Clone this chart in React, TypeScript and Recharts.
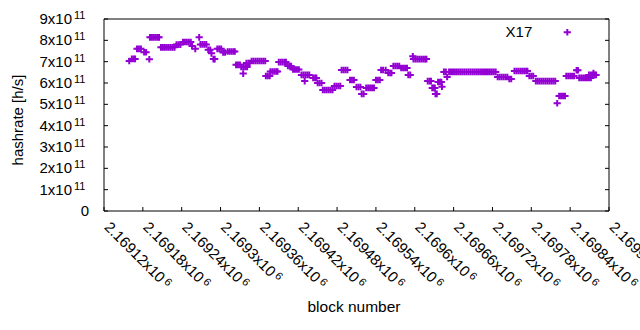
import { Legend, Scatter, ScatterChart, XAxis, YAxis } from "recharts";

// block numbers (x) and hashrate in h/s (y), one entry per plotted point
const blocks = [
  2169159,
  2169163, 2169166, 2169168,
  2169171, 2169174, 2169177,
  2169182, 2169185,
  2169190,
  2169191, 2169194, 2169197, 2169200, 2169203, 2169205,
  2169208, 2169211, 2169214, 2169217, 2169220, 2169223, 2169226, 2169229,
  2169232, 2169235, 2169238,
  2169242, 2169245, 2169248, 2169251, 2169254,
  2169256,
  2169261,
  2169267,
  2169269, 2169272, 2169275, 2169278,
  2169281, 2169284,
  2169286,
  2169289, 2169291,
  2169295, 2169298, 2169301,
  2169304, 2169307,
  2169311, 2169314, 2169317, 2169320, 2169322,
  2169324, 2169327, 2169330,
  2169332, 2169335, 2169338, 2169341,
  2169335,
  2169340, 2169343, 2169345,
  2169348, 2169351, 2169354, 2169357, 2169360, 2169363, 2169366, 2169369,
  2169370, 2169373, 2169376,
  2169377, 2169380, 2169383, 2169386, 2169388,
  2169390, 2169393, 2169396, 2169399, 2169401,
  2169404, 2169407, 2169409,
  2169412, 2169415, 2169418, 2169421,
  2169425, 2169428, 2169431, 2169434, 2169437,
  2169430,
  2169443, 2169446, 2169448,
  2169450, 2169453, 2169456,
  2169458, 2169461, 2169464, 2169467, 2169470, 2169473,
  2169476, 2169479, 2169482, 2169485,
  2169487, 2169490, 2169493, 2169496,
  2169500, 2169503, 2169506,
  2169510, 2169513, 2169516,
  2169518, 2169521,
  2169525, 2169528, 2169531, 2169534, 2169537,
  2169540, 2169543, 2169546,
  2169548, 2169551, 2169555,
  2169559, 2169562, 2169564,
  2169567, 2169570, 2169573, 2169576,
  2169579, 2169582, 2169585, 2169588,
  2169590, 2169593,
  2169597,
  2169598, 2169601, 2169604, 2169607, 2169610, 2169613, 2169616, 2169618,
  2169620, 2169623, 2169625,
  2169627, 2169629, 2169631,
  2169632, 2169634,
  2169636, 2169639, 2169641,
  2169642,
  2169645, 2169648,
  2169650,
  2169653, 2169656, 2169659, 2169662, 2169665, 2169668, 2169671, 2169674, 2169677,
  2169680, 2169683, 2169686, 2169689, 2169692, 2169695, 2169698, 2169701, 2169704,
  2169707, 2169710, 2169713, 2169716, 2169719, 2169722, 2169725,
  2169728, 2169731, 2169734, 2169737, 2169740, 2169743,
  2169746, 2169749,
  2169754, 2169757, 2169760, 2169763, 2169766, 2169769, 2169772, 2169774,
  2169777, 2169780, 2169783,
  2169787, 2169790, 2169793, 2169796, 2169799, 2169802, 2169805, 2169808, 2169811,
  2169814, 2169817,
  2169820,
  2169823, 2169826, 2169829, 2169832,
  2169834, 2169837, 2169840, 2169843, 2169846,
  2169850, 2169852,
  2169854, 2169857, 2169860, 2169863, 2169866, 2169869, 2169872,
  2169869, 2169872, 2169875, 2169878, 2169880,
  2169876,
];

const hashrate = [
  7.03e11,
  7.13e11, 7.13e11, 7.13e11,
  7.6e11, 7.6e11, 7.6e11,
  7.44e11, 7.44e11,
  7.11e11,
  8.14e11, 8.14e11, 8.14e11, 8.14e11, 8.14e11, 8.14e11,
  7.67e11, 7.67e11, 7.67e11, 7.67e11, 7.67e11, 7.67e11, 7.67e11, 7.67e11,
  7.8e11, 7.8e11, 7.8e11,
  7.92e11, 7.92e11, 7.92e11, 7.92e11, 7.92e11,
  7.73e11,
  7.6e11,
  8.14e11,
  7.81e11, 7.81e11, 7.81e11, 7.81e11,
  7.56e11, 7.56e11,
  7.39e11,
  7.12e11, 7.12e11,
  7.6e11, 7.6e11, 7.6e11,
  7.43e11, 7.43e11,
  7.48e11, 7.48e11, 7.48e11, 7.48e11, 7.48e11,
  6.85e11, 6.85e11, 6.85e11,
  6.75e11, 6.75e11, 6.75e11, 6.75e11,
  6.44e11,
  6.94e11, 6.94e11, 6.94e11,
  7.03e11, 7.03e11, 7.03e11, 7.03e11, 7.03e11, 7.03e11, 7.03e11, 7.03e11,
  6.33e11, 6.33e11, 6.33e11,
  6.54e11, 6.54e11, 6.54e11, 6.54e11, 6.54e11,
  6.98e11, 6.98e11, 6.98e11, 6.98e11, 6.98e11,
  6.8e11, 6.8e11, 6.8e11,
  6.63e11, 6.63e11, 6.63e11, 6.63e11,
  6.38e11, 6.38e11, 6.38e11, 6.38e11, 6.38e11,
  6.09e11,
  6.24e11, 6.24e11, 6.24e11,
  6.0e11, 6.0e11, 6.0e11,
  5.67e11, 5.67e11, 5.67e11, 5.67e11, 5.67e11, 5.67e11,
  5.86e11, 5.86e11, 5.86e11, 5.86e11,
  6.61e11, 6.61e11, 6.61e11, 6.61e11,
  6.14e11, 6.14e11, 6.14e11,
  5.81e11, 5.81e11, 5.81e11,
  5.49e11, 5.49e11,
  5.77e11, 5.77e11, 5.77e11, 5.77e11, 5.77e11,
  6.14e11, 6.14e11, 6.14e11,
  6.61e11, 6.61e11, 6.61e11,
  6.47e11, 6.47e11, 6.47e11,
  6.8e11, 6.8e11, 6.8e11, 6.8e11,
  6.7e11, 6.7e11, 6.7e11, 6.7e11,
  6.38e11, 6.38e11,
  7.25e11,
  7.12e11, 7.12e11, 7.12e11, 7.12e11, 7.12e11, 7.12e11, 7.12e11, 7.12e11,
  6.09e11, 6.09e11, 6.09e11,
  5.77e11, 5.77e11, 5.77e11,
  5.49e11, 5.49e11,
  6.05e11, 6.05e11, 6.05e11,
  5.83e11,
  6.52e11, 6.52e11,
  6.28e11,
  6.52e11, 6.52e11, 6.52e11, 6.52e11, 6.52e11, 6.52e11, 6.52e11, 6.52e11, 6.52e11,
  6.52e11, 6.52e11, 6.52e11, 6.52e11, 6.52e11, 6.52e11, 6.52e11, 6.52e11, 6.52e11,
  6.52e11, 6.52e11, 6.52e11, 6.52e11, 6.52e11, 6.52e11, 6.52e11,
  6.28e11, 6.28e11, 6.28e11, 6.28e11, 6.28e11, 6.28e11,
  6.19e11, 6.19e11,
  6.56e11, 6.56e11, 6.56e11, 6.56e11, 6.56e11, 6.56e11, 6.56e11, 6.56e11,
  6.33e11, 6.33e11, 6.33e11,
  6.09e11, 6.09e11, 6.09e11, 6.09e11, 6.09e11, 6.09e11, 6.09e11, 6.09e11, 6.09e11,
  6.09e11, 6.09e11,
  5.05e11,
  5.39e11, 5.39e11, 5.39e11, 5.39e11,
  6.33e11, 6.33e11, 6.33e11, 6.33e11, 6.33e11,
  6.6e11, 6.6e11,
  6.24e11, 6.24e11, 6.24e11, 6.24e11, 6.24e11, 6.24e11, 6.24e11,
  6.38e11, 6.38e11, 6.38e11, 6.38e11, 6.38e11,
  6.47e11,
];

const xTicks = [
  2169120, 2169180, 2169240, 2169300, 2169360, 2169420, 2169480,
  2169540, 2169600, 2169660, 2169720, 2169780, 2169840, 2169900,
];
const xTickLabels = [
  "2.16912", "2.16918", "2.16924", "2.1693", "2.16936", "2.16942", "2.16948",
  "2.16954", "2.1696", "2.16966", "2.16972", "2.16978", "2.16984", "2.1699",
];
const yTicks = [0, 1e11, 2e11, 3e11, 4e11, 5e11, 6e11, 7e11, 8e11, 9e11];
const yTickLabels = ["0", "1", "2", "3", "4", "5", "6", "7", "8", "9"];

const points = blocks.map((b, i) => ({ block: b, hashrate: hashrate[i] }));

const PURPLE = "#9400D3";
const FONT = "'Liberation Sans', Arial, sans-serif";
const X_DOMAIN = [2169120, 2169900];
const Y_DOMAIN = [0, 9e11];

function Cross(props: any) {
  const { cx, cy } = props;
  if (cx == null || cy == null) return null;
  return (
    <path
      d={`M${cx - 3.6},${cy}H${cx + 3.6}M${cx},${cy - 3.3}V${cy + 3.3}`}
      stroke={PURPLE}
      strokeWidth={2}
      fill="none"
    />
  );
}

function BottomTick({ x, y, payload }: any) {
  const label = xTickLabels[xTicks.indexOf(payload.value)];
  return (
    <g>
      <line x1={x} y1={y} x2={x} y2={y - 4} stroke="#000" />
      <g transform={`translate(${x - 0.5},${y + 17}) rotate(45)`}>
        <text x={0} y={0} fontSize={15} fill="#000">
          {label}x10
          <tspan dx={2.5} dy={-4} fontSize={11}>6</tspan>
        </text>
      </g>
    </g>
  );
}

function TopTick({ x, y }: any) {
  return <line x1={x} y1={y} x2={x} y2={y + 4} stroke="#000" />;
}

function LeftTick({ x, y, payload }: any) {
  const label = yTickLabels[yTicks.indexOf(payload.value)];
  return (
    <g>
      <line x1={x} y1={y} x2={x + 4} y2={y} stroke="#000" />
      {payload.value === 0 ? (
        <text x={x - 15} y={y + 5} fontSize={15} textAnchor="end" fill="#000">
          0
        </text>
      ) : (
        <text x={x - 32} y={y + 5} fontSize={15} textAnchor="end" fill="#000">
          {label}x10
          <tspan x={x - 30} dy={-5} fontSize={11} textAnchor="start">11</tspan>
        </text>
      )}
    </g>
  );
}

function RightTick({ x, y }: any) {
  return <line x1={x} y1={y} x2={x - 4} y2={y} stroke="#000" />;
}

function LegendKey() {
  return (
    <svg width={120} height={30} style={{ display: "block" }}>
      <text x={52.3} y={17.3} fontSize={15} textAnchor="end" fill="#000" fontFamily={FONT}>
        X17
      </text>
      <path d="M83.7,12.3H90.9M87.3,9V15.6" stroke={PURPLE} strokeWidth={2} fill="none" />
    </svg>
  );
}

export default function App() {
  return (
    <div style={{ position: "absolute", left: 0, top: 0, fontFamily: FONT, background: "#fff" }}>
      <ScatterChart width={640} height={330} margin={{ top: 18, right: 30, bottom: 0, left: 0 }}>
        <XAxis
          xAxisId="b"
          dataKey="block"
          type="number"
          domain={X_DOMAIN}
          ticks={xTicks}
          interval={0}
          height={119}
          tickSize={0}
          tickMargin={0}
          tickLine={false}
          axisLine={{ stroke: "#000" }}
          tick={<BottomTick />}
          allowDataOverflow
          label={({ viewBox }: any) => (
            <text
              x={viewBox.x + viewBox.width / 2 - 2.5}
              y={viewBox.y + 100.5}
              fontSize={15.5}
              textAnchor="middle"
              fill="#000"
            >
              block number
            </text>
          )}
        />
        <XAxis
          xAxisId="t"
          orientation="top"
          type="number"
          domain={X_DOMAIN}
          ticks={xTicks}
          interval={0}
          height={1}
          tickSize={0}
          tickMargin={0}
          tickLine={false}
          axisLine={{ stroke: "#000" }}
          tick={<TopTick />}
          allowDataOverflow
        />
        <YAxis
          yAxisId="l"
          dataKey="hashrate"
          type="number"
          domain={Y_DOMAIN}
          ticks={yTicks}
          interval={0}
          width={104}
          tickSize={0}
          tickMargin={0}
          tickLine={false}
          axisLine={{ stroke: "#000" }}
          tick={<LeftTick />}
          allowDataOverflow
          label={({ viewBox }: any) => (
            <text
              transform={`translate(22.5,${viewBox.y + viewBox.height / 2 + 5}) rotate(-90)`}
              fontSize={15}
              textAnchor="middle"
              fill="#000"
            >
              hashrate [h/s]
            </text>
          )}
        />
        <YAxis
          yAxisId="r"
          orientation="right"
          type="number"
          domain={Y_DOMAIN}
          ticks={yTicks}
          interval={0}
          width={1}
          tickSize={0}
          tickMargin={0}
          tickLine={false}
          axisLine={{ stroke: "#000" }}
          tick={<RightTick />}
          allowDataOverflow
        />
        <Legend
          layout="horizontal"
          verticalAlign="middle"
          align="center"
          wrapperStyle={{ top: 20, left: 480, width: 120, height: 30 }}
          content={<LegendKey />}
        />
        <Scatter
          name="X17"
          data={points}
          xAxisId="b"
          yAxisId="l"
          shape={Cross}
          isAnimationActive={false}
        />
      </ScatterChart>
    </div>
  );
}
